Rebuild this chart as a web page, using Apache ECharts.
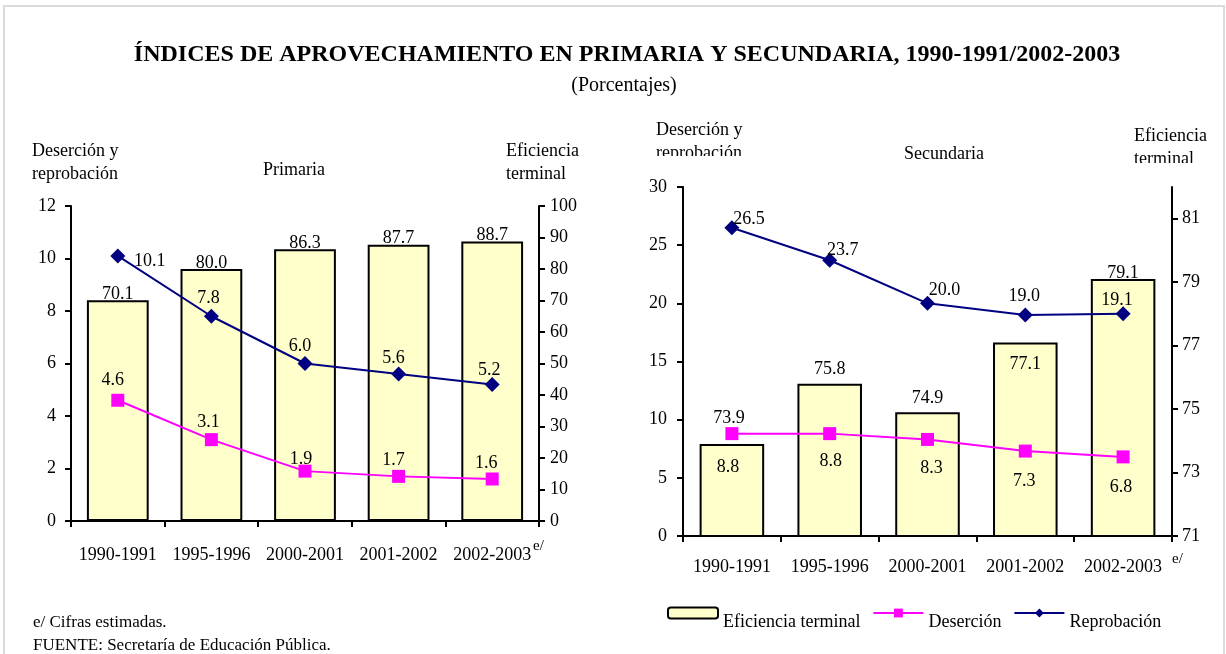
<!DOCTYPE html>
<html>
<head>
<meta charset="utf-8">
<script src="https://cdn.jsdelivr.net/npm/echarts@6/dist/echarts.min.js"></script>
<style>
html,body{margin:0;padding:0;background:#fff;}
#chart{width:1226px;height:654px;}
</style>
</head>
<body>
<div id="chart"></div>
<script>
// ---- data ----
const categories = ['1990-1991', '1995-1996', '2000-2001', '2001-2002', '2002-2003'];
const primEficiencia = [70.1, 80.0, 86.3, 87.7, 88.7];
const primDesercion = [4.6, 3.1, 1.9, 1.7, 1.6];
const primReprobacion = [10.1, 7.8, 6.0, 5.6, 5.2];
const secEficiencia = [73.9, 75.8, 74.9, 77.1, 79.1];
const secDesercion = [8.8, 8.8, 8.3, 7.3, 6.8];
const secReprobacion = [26.5, 23.7, 20.0, 19.0, 19.1];

const FONT = '"Liberation Serif", "DejaVu Serif", serif';
const NAVY = '#000080';
const MAGENTA = '#FF00FF';
const BARFILL = '#FFFFCC';
const fmt1 = p => Number(p.value).toFixed(1);

// label offsets (centre of label relative to the marker centre)
function centered(values, offsets) {
  return values.map((v, i) => ({ value: v, label: { position: 'inside', offset: offsets[i] } }));
}

const baseLabel = { show: true, color: '#000', fontFamily: FONT, fontSize: 18, formatter: fmt1 };

const chart = echarts.init(document.getElementById('chart'), null, { renderer: 'canvas' });

const catAxis = (gi, margin) => ({
  type: 'category', gridIndex: gi, data: categories,
  axisLine: { lineStyle: { color: '#000', width: 2 } },
  axisTick: { show: true, length: 6, lineStyle: { color: '#000', width: 2 } },
  axisLabel: { color: '#000', fontFamily: FONT, fontSize: 18, margin: margin, interval: 0 }
});
const valAxis = (gi, pos, min, max, interval, margin, showMax) => ({
  type: 'value', gridIndex: gi, position: pos, min: min, max: max, interval: interval,
  splitLine: { show: false },
  axisLine: { show: true, lineStyle: { color: '#000', width: 2 } },
  axisTick: { show: true, length: 6, lineStyle: { color: '#000', width: 2 } },
  axisLabel: { color: '#000', fontFamily: FONT, fontSize: 18, margin: margin, showMaxLabel: showMax }
});

const option = {
  animation: false,
  backgroundColor: '#fff',
  grid: [
    { left: 71, right: 687, top: 206, bottom: 133 },
    { left: 683, right: 54, top: 187, bottom: 118 }
  ],
  xAxis: [catAxis(0, 25), catAxis(1, 22)],
  yAxis: [
    valAxis(0, 'left', 0, 12, 2, 15, true),
    valAxis(0, 'right', 0, 100, 10, 11, true),
    valAxis(1, 'left', 0, 30, 5, 16, true),
    valAxis(1, 'right', 71, 82, 2, 10, false)
  ],
  legend: {
    left: 662, top: 589, padding: 5, itemWidth: 50, itemHeight: 11, itemGap: 12,
    formatter: name => '\n' + name,
    textStyle: { color: '#000', fontFamily: FONT, fontSize: 18, lineHeight: 19 },
    data: ['Eficiencia terminal', 'Deserción', 'Reprobación']
  },
  series: [
    {
      name: 'Eficiencia terminal', type: 'bar', xAxisIndex: 0, yAxisIndex: 1,
      barCategoryGap: '34%',
      itemStyle: { color: BARFILL, borderColor: '#000', borderWidth: 2 },
      label: Object.assign({}, baseLabel, { position: 'top', distance: -3 }),
      data: primEficiencia, z: 1
    },
    {
      name: 'Reprobación', type: 'line', xAxisIndex: 0, yAxisIndex: 0,
      symbol: 'diamond', symbolSize: 15,
      lineStyle: { color: NAVY, width: 2 }, itemStyle: { color: NAVY },
      label: baseLabel,
      data: centered(primReprobacion, [[32, 5], [-3, -18], [-5, -17], [-5, -16], [-3, -14]]), z: 3
    },
    {
      name: 'Deserción', type: 'line', xAxisIndex: 0, yAxisIndex: 0,
      symbol: 'rect', symbolSize: 13,
      lineStyle: { color: MAGENTA, width: 2 }, itemStyle: { color: MAGENTA },
      label: baseLabel,
      data: centered(primDesercion, [[-5, -20], [-3, -17], [-4, -12], [-5, -16], [-6, -16]]), z: 3
    },
    {
      name: 'Eficiencia terminal', type: 'bar', xAxisIndex: 1, yAxisIndex: 3,
      barCategoryGap: '34%',
      itemStyle: { color: BARFILL, borderColor: '#000', borderWidth: 2 },
      label: Object.assign({}, baseLabel, { position: 'top', distance: 5 }),
      data: secEficiencia.map((v, i) => ({
        value: v,
        label: [{ distance: 17, offset: [-3, 0] }, {}, {}, { position: 'insideTop', distance: 13 }, { distance: -3 }][i]
      })), z: 1
    },
    {
      name: 'Reprobación', type: 'line', xAxisIndex: 1, yAxisIndex: 2,
      symbol: 'diamond', symbolSize: 15,
      lineStyle: { color: NAVY, width: 2 }, itemStyle: { color: NAVY },
      label: baseLabel,
      data: centered(secReprobacion, [[17, -8], [13, -10], [17, -13], [-1, -19], [-6, -14]]), z: 3
    },
    {
      name: 'Deserción', type: 'line', xAxisIndex: 1, yAxisIndex: 2,
      symbol: 'rect', symbolSize: 13,
      lineStyle: { color: MAGENTA, width: 2 }, itemStyle: { color: MAGENTA },
      label: baseLabel,
      data: centered(secDesercion, [[-4, 34], [1, 28], [4, 29], [-1, 30], [-2, 30]]), z: 3
    }
  ],
  graphic: [
    { type: 'rect', shape: { x: 4, y: 6, width: 1220, height: 660 }, style: { fill: 'none', stroke: '#dadada', lineWidth: 2 }, silent: true, z: -1 },
    { type: 'text', x: 627, y: 55, style: { text: 'ÍNDICES DE APROVECHAMIENTO EN PRIMARIA Y SECUNDARIA, 1990-1991/2002-2003', font: 'bold 24px ' + FONT, fill: '#000', textAlign: 'center', textVerticalAlign: 'middle' } },
    { type: 'text', x: 624, y: 86, style: { text: '(Porcentajes)', font: '20px ' + FONT, fill: '#000', textAlign: 'center', textVerticalAlign: 'middle' } },
    { type: 'text', x: 32, y: 140, style: { text: 'Deserción y\nreprobación', font: '18px ' + FONT, fill: '#000', lineHeight: 23 } },
    { type: 'text', x: 294, y: 170, style: { text: 'Primaria', font: '18px ' + FONT, fill: '#000', textAlign: 'center', textVerticalAlign: 'middle' } },
    { type: 'text', x: 506, y: 140, style: { text: 'Eficiencia\nterminal', font: '18px ' + FONT, fill: '#000', lineHeight: 23 } },
    { type: 'text', x: 656, y: 119, style: { text: 'Deserción y\nreprobación', font: '18px ' + FONT, fill: '#000', lineHeight: 23 } },
    { type: 'rect', shape: { x: 650, y: 156, width: 120, height: 14 }, style: { fill: '#fff' }, z: 10 },
    { type: 'text', x: 944, y: 154, style: { text: 'Secundaria', font: '18px ' + FONT, fill: '#000', textAlign: 'center', textVerticalAlign: 'middle' } },
    { type: 'text', x: 1134, y: 125, style: { text: 'Eficiencia\nterminal', font: '18px ' + FONT, fill: '#000', lineHeight: 23 } },
    { type: 'rect', shape: { x: 1128, y: 163, width: 90, height: 14 }, style: { fill: '#fff' }, z: 10 },
    { type: 'text', x: 533, y: 546, style: { text: 'e/', font: '15px ' + FONT, fill: '#000', textVerticalAlign: 'middle' } },
    { type: 'text', x: 1172, y: 559, style: { text: 'e/', font: '15px ' + FONT, fill: '#000', textVerticalAlign: 'middle' } },
    { type: 'text', x: 33, y: 623, style: { text: 'e/ Cifras estimadas.', font: '17px ' + FONT, fill: '#000', textVerticalAlign: 'middle' } },
    { type: 'text', x: 33, y: 646, style: { text: 'FUENTE: Secretaría de Educación Pública.', font: '17px ' + FONT, fill: '#000', textVerticalAlign: 'middle' } }
  ]
};
chart.setOption(option);
</script>
</body>
</html>
